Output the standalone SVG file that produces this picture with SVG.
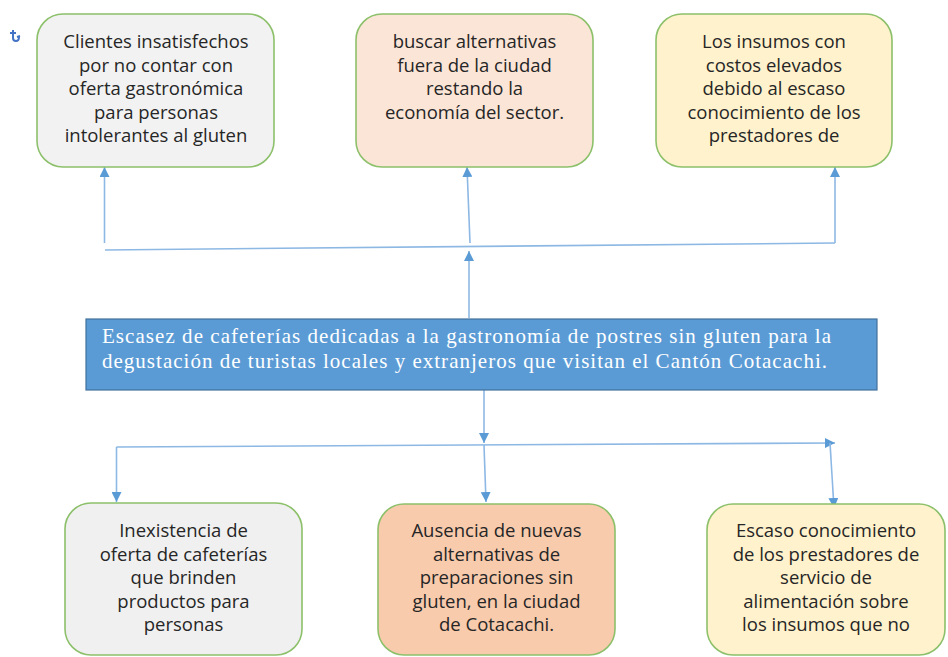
<svg xmlns="http://www.w3.org/2000/svg" width="948" height="657" viewBox="0 0 948 657">
<defs>
<marker id="ah" viewBox="0 0 10 10" refX="10" refY="5" markerWidth="10" markerHeight="10" markerUnits="userSpaceOnUse" orient="auto">
<path d="M0,0 L10,5 L0,10 Z" fill="#5B9BD5"/>
</marker>
<style>
.box{stroke:#8CC06A;stroke-width:1.6}
.t{font-family:"Open Sans",Lato,"Liberation Sans",sans-serif;font-size:18.5px;fill:#262626;text-anchor:middle}
.c{stroke:#8DB8E4;stroke-width:1.6;fill:none}
.ca{stroke:#8DB8E4;stroke-width:1.6;fill:none;marker-end:url(#ah)}
.mt{font-family:"Liberation Serif","Times New Roman",serif;font-size:21px;fill:#FFFFFF}
</style>
</defs>
<rect width="948" height="657" fill="#FFFFFF"/>
<path d="M13,30 L13,38 Q13,41 16,41 Q19,41 19,37 M10,33 L16,33 M17,37 L20,36" stroke="#4472C4" stroke-width="2" fill="none"/>
<g id="connectors">
<line class="ca" x1="104.5" y1="243" x2="104.5" y2="167"/>
<line class="c" x1="105" y1="250" x2="835" y2="243"/>
<line class="ca" x1="835" y1="243" x2="835" y2="167"/>
<line class="ca" x1="470" y1="243" x2="467" y2="167"/>
<line class="ca" x1="469" y1="318" x2="469" y2="251"/>
<line class="ca" x1="484" y1="390" x2="484" y2="443"/>
<line class="ca" x1="116.5" y1="447" x2="835" y2="443"/>
<line class="ca" x1="116.5" y1="447" x2="116.5" y2="502"/>
<line class="ca" x1="484" y1="445" x2="486" y2="502"/>
<line class="ca" x1="830" y1="443" x2="834" y2="508"/>
</g>
<g id="n1">
<rect class="box" x="37" y="14" width="237" height="153" rx="26" fill="#F2F2F2"/>
<text class="t" x="156" y="48">Clientes insatisfechos</text>
<text class="t" x="156" y="71.5">por no contar con</text>
<text class="t" x="156" y="95">oferta gastronómica</text>
<text class="t" x="156" y="118.5">para personas</text>
<text class="t" x="156" y="142">intolerantes al gluten</text>
</g>
<g id="n2">
<rect class="box" x="356" y="14" width="237" height="153" rx="26" fill="#FBE5D6"/>
<text class="t" x="474.5" y="48">buscar alternativas</text>
<text class="t" x="474.5" y="71.5">fuera de la ciudad</text>
<text class="t" x="474.5" y="95">restando la</text>
<text class="t" x="474.5" y="118.5">economía del sector.</text>
</g>
<g id="n3">
<rect class="box" x="656" y="14" width="236" height="153" rx="26" fill="#FFF2CC"/>
<text class="t" x="774" y="48">Los insumos con</text>
<text class="t" x="774" y="71.5">costos elevados</text>
<text class="t" x="774" y="95">debido al escaso</text>
<text class="t" x="774" y="118.5">conocimiento de los</text>
<text class="t" x="774" y="142">prestadores de</text>
</g>
<g id="center">
<rect x="86" y="319" width="791" height="71" fill="#5B9BD5" stroke="#41719C" stroke-width="1.2"/>
<text class="mt" x="102" y="343" textLength="729" lengthAdjust="spacing">Escasez de cafeterías dedicadas a la gastronomía de postres sin gluten para la</text>
<text class="mt" x="102" y="368" textLength="725" lengthAdjust="spacing">degustación de turistas locales y extranjeros que visitan el Cantón Cotacachi.</text>
</g>
<g id="n4">
<rect class="box" x="65" y="503" width="237" height="152" rx="26" fill="#F0F0F0"/>
<text class="t" x="183.5" y="537">Inexistencia de</text>
<text class="t" x="183.5" y="560.5">oferta de cafeterías</text>
<text class="t" x="183.5" y="584">que brinden</text>
<text class="t" x="183.5" y="607.5">productos para</text>
<text class="t" x="183.5" y="631">personas</text>
</g>
<g id="n5">
<rect class="box" x="378" y="504" width="237" height="151" rx="26" fill="#F8CBAD"/>
<text class="t" x="496.5" y="537">Ausencia de nuevas</text>
<text class="t" x="496.5" y="560.5">alternativas de</text>
<text class="t" x="496.5" y="584">preparaciones sin</text>
<text class="t" x="496.5" y="607.5">gluten, en la ciudad</text>
<text class="t" x="496.5" y="631">de Cotacachi.</text>
</g>
<g id="n6">
<rect class="box" x="707" y="504" width="238" height="151" rx="26" fill="#FFF2CC"/>
<text class="t" x="826" y="537">Escaso conocimiento</text>
<text class="t" x="826" y="560.5">de los prestadores de</text>
<text class="t" x="826" y="584">servicio de</text>
<text class="t" x="826" y="607.5">alimentación sobre</text>
<text class="t" x="826" y="631">los insumos que no</text>
</g>
</svg>
